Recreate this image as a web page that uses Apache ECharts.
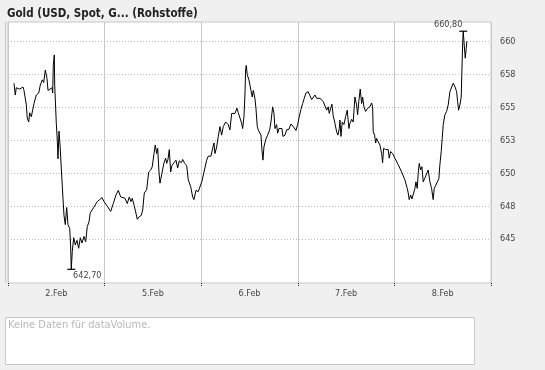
<!DOCTYPE html>
<html><head><meta charset="utf-8">
<script src="https://cdn.jsdelivr.net/npm/echarts@6/dist/echarts.min.js"></script>
<style>html,body{margin:0;padding:0;background:#f0f0f0}#c{width:545px;height:370px}</style>
</head><body><div id="c"></div>
<script>
const title = 'Gold (USD, Spot, G... (Rohstoffe)';
const dayLabels = ['2.Feb', '5.Feb', '6.Feb', '7.Feb', '8.Feb'];
const yTicks = [645, 647.5, 650, 652.5, 655, 657.5, 660];
const volumeText = 'Keine Daten für dataVolume.';
// trading hours since start of 2.Feb (24 per day)
const hours = [1.49,1.81,2.06,2.91,3.73,3.97,4.55,4.79,5.14,5.39,5.79,6.46,7.03,7.63,8.02,8.52,8.87,9.27,9.69,9.94,
10.43,10.93,11.10,11.25,11.50,11.60,12.00,12.25,12.42,12.67,12.92,13.24,13.66,13.91,14.23,14.58,14.90,15.33,15.57,15.72,
15.97,16.32,16.72,17.14,17.56,17.96,18.38,18.88,19.30,19.70,20.12,20.44,20.87,21.29,21.69,22.18,22.78,23.35,23.85,24.10,
24.67,25.51,26.16,26.83,27.40,28.00,28.49,29.06,29.63,30.13,30.55,30.88,31.30,31.62,32.12,32.61,33.11,33.46,33.86,34.45,
34.95,35.45,35.84,36.27,36.59,36.94,37.19,37.51,37.76,38.18,38.75,39.17,39.42,39.74,40.07,40.41,40.74,41.23,41.73,42.15,
42.55,43.05,43.40,43.89,44.39,44.79,45.38,45.88,46.20,46.70,47.27,47.69,48.19,48.69,49.36,49.75,50.42,50.85,51.17,51.42,
51.84,52.24,52.66,53.08,53.48,54.08,54.72,55.14,55.57,56.06,56.39,56.88,57.21,57.70,58.05,58.30,58.62,58.87,59.04,59.19,
59.44,59.86,60.36,60.68,60.93,61.35,61.60,61.93,62.17,62.52,62.85,63.09,63.34,63.59,64.01,64.51,65.01,65.33,65.75,66.08,
66.32,66.74,66.99,67.32,67.74,68.06,68.31,68.81,69.23,69.80,70.30,70.79,71.12,71.54,71.96,72.36,72.78,73.20,73.60,74.02,
74.59,75.02,75.44,75.84,76.26,76.68,77.08,77.50,77.92,78.32,78.74,79.17,79.56,79.81,80.16,80.48,80.80,81.23,81.65,81.97,
82.30,82.47,82.72,83.04,83.46,83.88,84.28,84.70,84.95,85.38,85.77,86.19,86.61,86.86,87.19,87.51,87.86,88.11,88.43,88.85,
89.35,89.92,90.34,90.59,90.74,91.09,91.34,91.58,91.98,92.40,92.83,93.07,93.32,93.82,94.46,94.71,95.06,95.56,96.13,96.95,
97.79,98.61,99.19,99.44,99.68,100.03,100.36,100.68,101.10,101.35,101.67,101.92,102.17,102.52,102.84,103.16,103.51,104.00,104.40,104.82,
105.24,105.64,105.89,106.31,106.73,107.05,107.30,107.63,107.88,108.13,108.55,108.97,109.37,109.79,110.21,110.61,111.03,111.46,111.71,111.95,
112.28,112.60,112.78,112.95,113.10,113.35,113.60,113.85,114.01];
const prices = [656.84,655.95,656.5,656.4,656.56,656.3,655.2,654.2,653.9,654.6,654.3,655.3,655.95,656.1,656.7,657.1,656.9,657.85,657.2,656.3,
656.2,656.5,656.1,658.2,659.0,656.7,653.8,652.5,651.1,653.2,652.2,650.4,648.1,646.8,646.1,647.4,646.1,645.8,644.4,642.7,
644.05,645.1,644.55,644.9,644.3,645.1,644.7,645.2,644.8,645.95,646.3,647.0,647.1,647.4,647.5,647.85,648.0,648.15,647.85,647.85,
647.5,647.1,647.7,648.35,648.7,648.2,648.35,648.1,647.7,648.2,647.85,648.1,647.6,647.2,646.5,646.7,646.8,647.2,648.5,648.75,
650.1,650.25,650.5,651.5,652.15,651.5,651.9,650.1,649.25,649.9,650.8,651.15,650.75,651.05,651.8,650.1,650.6,650.55,651.0,650.4,
650.95,650.8,651.05,650.75,650.6,649.5,649.0,648.2,648.0,648.7,648.6,648.75,649.4,650.1,651.0,651.3,651.3,651.9,652.3,651.5,
652.0,652.8,653.55,652.9,653.55,653.9,653.7,653.3,654.55,654.7,654.55,654.95,654.6,654.55,653.8,653.4,654.3,655.95,657.85,658.2,
657.5,657.1,656.3,655.8,656.3,655.7,654.95,653.55,653.3,653.4,652.9,651.8,651.0,652.0,652.55,652.9,653.3,653.9,655.05,654.55,
653.4,653.7,653.05,653.4,653.3,653.4,652.8,652.9,653.3,653.35,653.75,653.6,653.45,653.25,653.7,654.3,654.85,655.3,655.7,656.1,
656.2,655.9,655.6,655.45,655.95,655.7,655.8,655.7,655.8,655.45,655.3,654.8,655.05,654.55,654.95,655.25,654.35,653.8,653.15,652.9,
653.4,654.05,652.8,653.9,653.7,654.3,654.8,653.4,653.8,654.1,653.9,655.8,655.2,654.45,655.55,656.4,655.3,655.8,655.05,654.7,
654.95,655.05,655.35,655.05,653.15,652.9,652.3,652.65,652.4,652.15,651.5,650.8,651.9,651.8,651.8,651.15,651.65,651.5,651.15,650.65,
650.1,649.5,648.85,648.5,648.0,648.35,648.05,648.2,648.85,649.35,648.85,650.0,650.75,650.25,650.5,649.35,649.6,649.5,650.25,649.35,
648.85,648.0,648.85,649.1,648.95,649.6,650.65,651.65,652.65,653.7,654.45,654.7,655.2,656.2,656.3,656.85,656.6,656.2,655.45,654.8,
655.2,655.8,657.95,659.75,660.8,659.75,658.75,659.5,660.05];

const series = hours.map((h, i) => [h, prices[i]]);
let iMax = 0, iMin = 0;
prices.forEach((p, i) => { if (p > prices[iMax]) iMax = i; if (p < prices[iMin]) iMin = i; });
const fmt = v => v.toFixed(2).replace('.', ',');
const FONT = 'DejaVu Sans Condensed';

const chart = echarts.init(document.getElementById('c'), null, { renderer: 'canvas' });
chart.setOption({
  animation: false,
  backgroundColor: '#f0f0f0',
  title: {
    text: title, left: 2, top: 3,
    textStyle: { fontFamily: 'DejaVu Sans Condensed', fontWeight: 'bold', fontSize: 11.5, color: '#222' }
  },
  grid: {
    left: 8, right: 54, top: 22, bottom: 87,
    show: true, backgroundColor: '#fff', borderColor: '#c8c8c8', borderWidth: 1
  },
  xAxis: [{
    type: 'category', data: dayLabels, boundaryGap: true,
    axisLine: { show: false },
    axisTick: { show: true, length: 4, lineStyle: { color: '#222', type: 'dotted' } },
    axisLabel: { color: '#444', fontFamily: FONT, fontSize: 9, margin: 6 },
    splitLine: { show: true, lineStyle: { color: '#c8c8c8', width: 1 } }
  }, {
    type: 'value', min: 0, max: 120, show: false
  }],
  yAxis: {
    type: 'value', position: 'right', min: 641.66, max: 661.5,
    axisLine: { show: false },
    axisTick: { show: false, customValues: yTicks },
    axisLabel: { customValues: yTicks, color: '#444', fontFamily: FONT, fontSize: 9, margin: 9,
      formatter: v => String(Math.round(v)) },
    splitLine: { show: true, lineStyle: { color: '#bbb', type: [1, 2], width: 1 } }
  },
  series: [{
    type: 'line', xAxisIndex: 1, data: series, showSymbol: false, symbol: 'none',
    lineStyle: { color: '#000', width: 1 }, itemStyle: { color: '#000' },
    markPoint: {
      symbol: 'rect', symbolSize: [8, 1.2], silent: true,
      itemStyle: { color: '#000' },
      data: [
        { coord: series[iMax], value: fmt(prices[iMax]),
          label: { show: true, position: 'top', distance: 1, offset: [-15, 0], formatter: fmt(prices[iMax]),
            color: '#444', fontFamily: FONT, fontSize: 9 } },
        { coord: series[iMin], value: fmt(prices[iMin]),
          label: { show: true, position: 'bottom', distance: 1, offset: [16, 0], formatter: fmt(prices[iMin]),
            color: '#444', fontFamily: FONT, fontSize: 9 } }
      ]
    }
  }],
  graphic: [
    { type: 'line', shape: { x1: 5.5, y1: 22, x2: 5.5, y2: 283 }, style: { stroke: '#c8c8c8', lineWidth: 1 } },
    { type: 'rect', shape: { x: 5.5, y: 317.5, width: 469, height: 47 }, style: { fill: '#fff', stroke: '#c8c8c8', lineWidth: 1 } },
    { type: 'text', left: 8, top: 320, style: { text: volumeText, fill: '#b8b8b8', font: '11px "DejaVu Sans Condensed"' } }
  ]
});
</script></body></html>
